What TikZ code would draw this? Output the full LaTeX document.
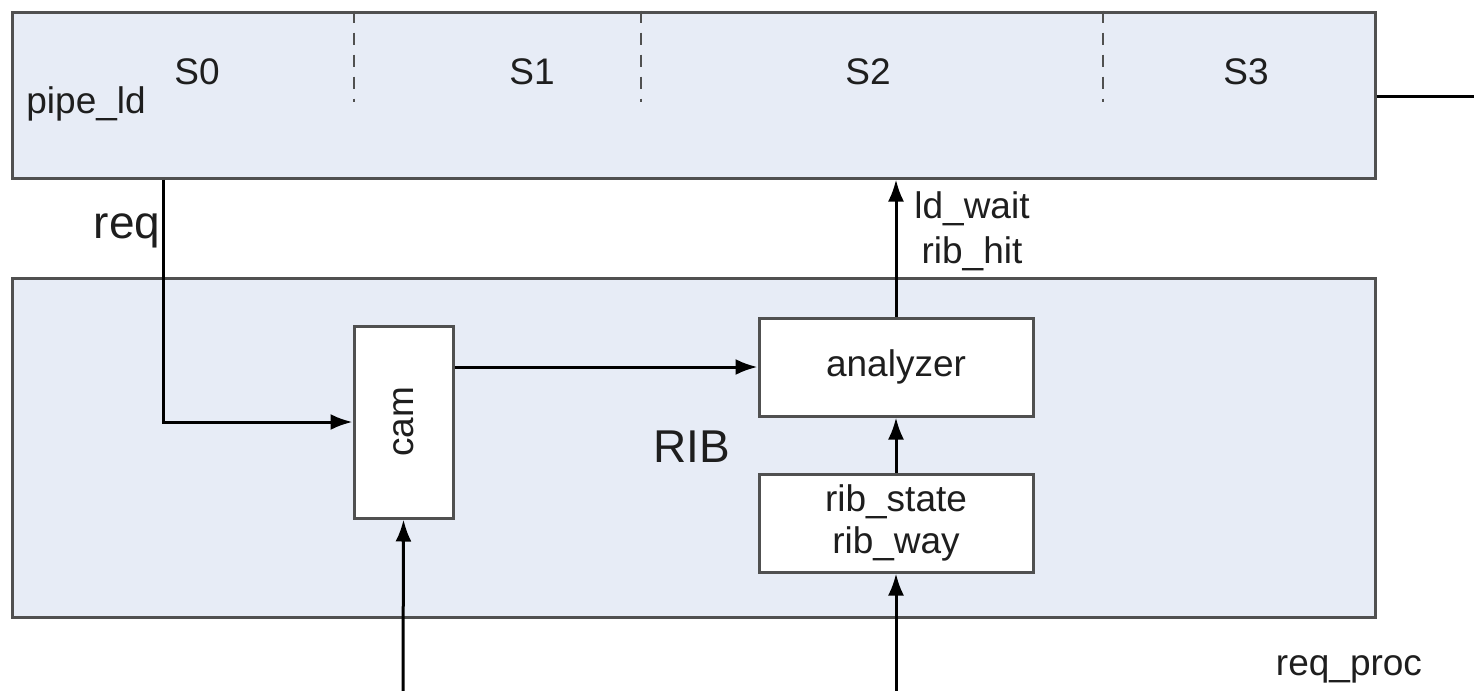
\documentclass[tikz,border=0pt]{standalone}
\usepackage{fontspec}
\setmainfont{Liberation Sans}
\usetikzlibrary{arrows.meta,calc}

\definecolor{stagefill}{RGB}{231,236,246}
\definecolor{edgegray}{RGB}{80,80,80}
\definecolor{inkdark}{RGB}{30,30,30}

\tikzset{
  block/.style={draw=edgegray, line width=1.5pt, fill=stagefill, inner sep=0pt},
  unit/.style={draw=edgegray, line width=1.5pt, fill=white, inner sep=0pt,
               minimum width=137pt, minimum height=49pt, text=inkdark,
               font=\fontsize{18.5}{21}\selectfont},
  sig/.style={draw=black, line width=1.5pt, -{Latex[length=11pt,width=8pt]}},
  wire/.style={draw=black, line width=1.5pt},
  stagesep/.style={draw=edgegray, line width=1.2pt, dash pattern=on 6pt off 5pt},
  lbl/.style={text=inkdark, inner sep=0pt, font=\fontsize{18.5}{21}\selectfont},
  biglbl/.style={text=inkdark, inner sep=0pt, font=\fontsize{23}{27}\selectfont},
}

\begin{document}
\begin{tikzpicture}[x=0.5pt, y=-0.5pt]
  \useasboundingbox (0,0) rectangle (1474,691);

  % pipeline stage strip and RIB container
  \node[block, minimum width=681.5pt, minimum height=83pt] (pipe) at (693.5,95) {};
  \node[block, minimum width=681.5pt, minimum height=169.5pt] (rib) at (693.5,447.5) {};

  % stage boundaries
  \draw[stagesep] (pipe.north -| 354,0) -- ++(0,91);
  \draw[stagesep] (pipe.north -| 641,0) -- ++(0,91);
  \draw[stagesep] (pipe.north -| 1103,0) -- ++(0,91);

  % stage labels
  \node[lbl, anchor=base] (s0) at (197,84) {S0};
  \node[lbl, anchor=base] (s1) at (532,84) {S1};
  \node[lbl, anchor=base] (s2) at (868,84) {S2};
  \node[lbl, anchor=base] (s3) at (1246,84) {S3};
  \node[lbl, anchor=base west] (pipename) at (26,113) {pipe\_ld};

  % inner units
  \node[unit, minimum width=49.5pt, minimum height=96pt] (cam) at (403.5,422) {};
  \node[lbl, rotate=90] (camtext) at (cam.center) {cam};
  \node[unit] (analyzer) at (896,367) {analyzer};
  \node[unit, align=center] (state) at (896,523) {rib\_state\\rib\_way};

  \node[biglbl, anchor=base] (ribname) at (692,462) {RIB};
  \node[biglbl, anchor=base] (reqname) at (127,238) {req};
  \node[lbl, anchor=base] (procname) at (1349,675) {req\_proc};
  \node[lbl, align=center, font=\fontsize{18.5}{22.5}\selectfont] (hitname) at (972,231) {ld\_wait\\rib\_hit};

  % free ends
  \coordinate (camin) at (403,691);
  \coordinate (statein) at (896,691);
  \coordinate (pipeout) at (1474,96);

  % connectors
  \draw[sig] (pipe.south -| 163,0) |- (cam.west);
  \draw[sig] (cam.east |- analyzer.west) -- (analyzer.west);
  \draw[sig] (state.north) -- (analyzer.south);
  \draw[sig] (analyzer.north) -- (analyzer.north |- pipe.south);
  \draw[sig] (camin) -- (cam.south);
  \draw[sig] (statein) -- (state.south);
  \draw[wire] (pipe.east |- pipeout) -- (pipeout);
\end{tikzpicture}
\end{document}
